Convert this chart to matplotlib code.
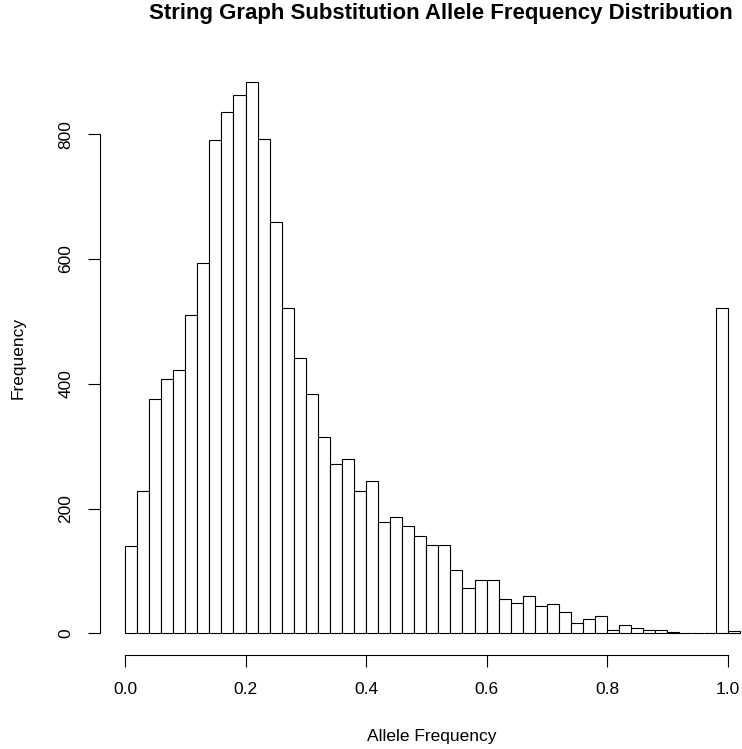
import matplotlib
matplotlib.use("Agg")
import matplotlib.pyplot as plt
import numpy as np

plt.rcParams['font.family'] = ['Liberation Sans', 'DejaVu Sans']

# Histogram data (bin width 0.02, starting at 0.0)
bin_width = 0.02
bin_start = 0.0
counts = [140, 228, 376, 407, 422, 510, 594, 791, 835, 863,
          884, 792, 660, 521, 441, 383, 315, 271, 280, 228,
          244, 178, 187, 172, 156, 142, 141, 102, 73, 86,
          86, 55, 49, 60, 44, 47, 35, 17, 23, 28,
          5, 13, 8, 5, 6, 2, 0, 0, 1, 521,
          3]
x_ticks = [0.0, 0.2, 0.4, 0.6, 0.8, 1.0]
x_tick_labels = ["0.0", "0.2", "0.4", "0.6", "0.8", "1.0"]
y_ticks = [0, 200, 400, 600, 800]
y_tick_labels = ["0", "200", "400", "600", "800"]
title = "String Graph Substitution Allele Frequency Distribution"
xlabel = "Allele Frequency"
ylabel = "Frequency"

W, H = 742, 749
fig = plt.figure(figsize=(W / 100, H / 100), dpi=100)

# plot region in pixels (R-style, extends beyond right edge)
left_px, right_px = 100.4, 764.3
top_px, bottom_px = 59.8, 655.4
ax = fig.add_axes([left_px / W, 1 - bottom_px / H,
                   (right_px - left_px) / W, (bottom_px - top_px) / H])

edges = bin_start + bin_width * np.arange(len(counts))
ax.bar(edges, counts, width=bin_width, align='edge', facecolor='white',
       edgecolor='black', linewidth=0.8)

xmin, xmax = edges[0], edges[-1] + bin_width
xr = (xmax - xmin) * 0.04
ax.set_xlim(xmin - xr, xmax + xr)
ymax = max(counts)
yr = ymax * 0.04
ax.set_ylim(-yr, ymax + yr)

for s in ['top', 'right']:
    ax.spines[s].set_visible(False)
ax.spines['left'].set_bounds(y_ticks[0], y_ticks[-1])
ax.spines['bottom'].set_bounds(x_ticks[0], x_ticks[-1])
for s in ['left', 'bottom']:
    ax.spines[s].set_linewidth(0.8)

ax.set_xticks(x_ticks)
ax.set_xticklabels(x_tick_labels)
ax.set_yticks(y_ticks)
ax.set_yticklabels(y_tick_labels, rotation=90, va='center')
ax.tick_params(axis='both', direction='out', length=8.5, width=0.8,
               labelsize=12.5)
ax.tick_params(axis='x', pad=11)
ax.tick_params(axis='y', pad=11)

fig.text(432 / W, 1 - 736 / H, xlabel, ha='center', va='center', fontsize=12.5)
fig.text(18 / W, 1 - 358 / H, ylabel, ha='center', va='center', rotation=90,
         fontsize=12.5)
fig.text(440.5 / W, 1 - 14 / H, title, ha='center', va='center', fontsize=16,
         fontweight='bold')

fig.savefig("out.png", dpi=100)
